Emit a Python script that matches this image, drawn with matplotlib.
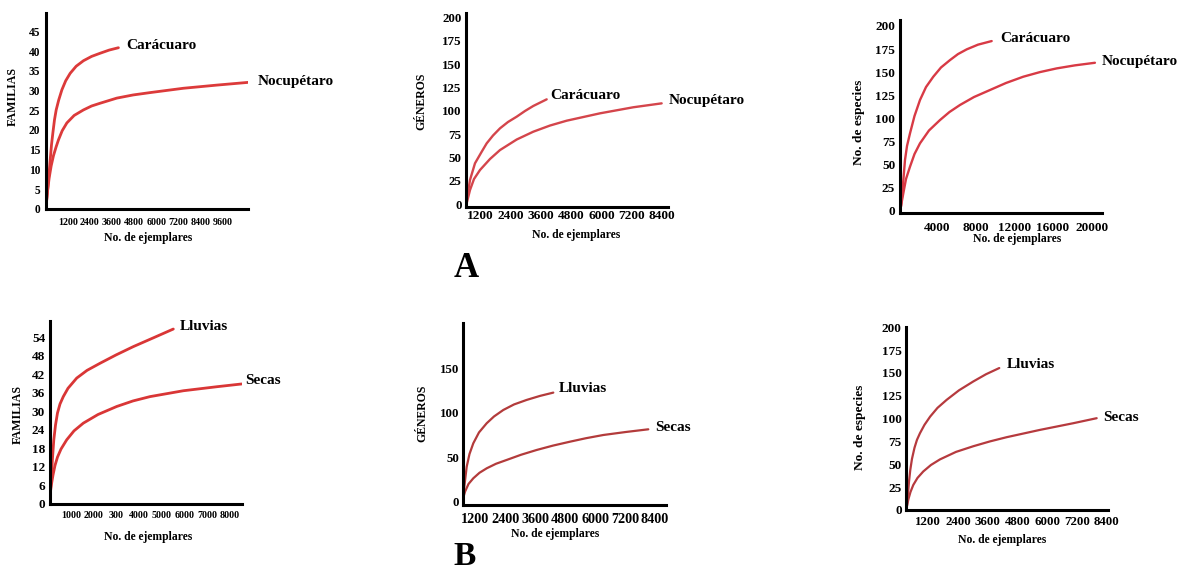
import matplotlib
matplotlib.use("Agg")
import matplotlib.pyplot as plt

plt.rcParams['font.family'] = ['Liberation Serif', 'DejaVu Serif']
plt.rcParams['font.weight'] = 'bold'

W, H = 1180, 573

# ---------------- data ----------------
# Panel A1: FAMILIAS
a1_car_x = [16, 81, 152, 244, 314, 390, 477, 569, 705, 878, 1084, 1328, 1653, 2049, 2493, 2954, 3442, 3946]
a1_car_y = [0.3, 3.6, 7.4, 12.4, 16.2, 19.3, 22.6, 25.1, 27.6, 30.2, 32.5, 34.4, 36.2, 37.6, 38.7, 39.5, 40.3, 40.9]
a1_noc_x = [16, 54, 108, 190, 298, 423, 558, 694, 894, 1149, 1545, 2049, 2493, 2954, 3859, 4743, 5664, 7469, 9279, 10992]
a1_noc_y = [0.3, 2.3, 4.8, 7.9, 10.9, 13.5, 15.6, 17.5, 19.8, 21.8, 23.7, 25.1, 26.1, 26.8, 28.1, 28.9, 29.5, 30.6, 31.4, 32.1]
a1_xticks = [1200, 2400, 3600, 4800, 6000, 7200, 8400, 9600]
a1_yticks = [0, 5, 10, 15, 20, 25, 30, 35, 40, 45]

# Panel A2: GÉNEROS
a2_car_x = [653, 792, 990, 1255, 1453, 1703, 1980, 2297, 2641, 2970, 3299, 3829]
a2_car_y = [2.1, 25.8, 43.7, 56.1, 65.1, 73.5, 81.2, 88, 93.7, 99.8, 105.2, 112.3]
a2_noc_x = [673, 792, 950, 1188, 1584, 1980, 2641, 3299, 3960, 4621, 5940, 7259, 8383]
a2_noc_y = [2.1, 15, 26.8, 36.5, 48.3, 57.9, 69.2, 77.6, 84.2, 89.4, 97.3, 103.8, 108.0]
a2_xticks = [1200, 2400, 3600, 4800, 6000, 7200, 8400]
a2_yticks = [0, 25, 50, 75, 100, 125, 150, 175, 200]

# Panel A3: No. de especies
a3_car_x = [310, 382, 722, 929, 1238, 1703, 2270, 2890, 3643, 4438, 5366, 6192, 7090, 8256, 9670]
a3_car_y = [4.3, 11.6, 54.9, 70, 83.7, 102.5, 119.8, 133.8, 145, 155, 163, 169.5, 174.6, 179.7, 183.6]
a3_noc_x = [310, 547, 826, 1238, 1703, 2270, 3199, 4334, 5315, 6398, 7843, 9494, 11146, 12931, 14654, 16377, 18266, 20330]
a3_noc_y = [5.1, 18.8, 34.3, 47.6, 61.3, 72.9, 86.8, 98.1, 106.8, 114.4, 123, 130.6, 138.2, 145, 150, 154, 157.3, 160.1]
a3_xticks = [4000, 8000, 12000, 16000, 20000]
a3_yticks = [0, 25, 50, 75, 100, 125, 150, 175, 200]

# Panel B1: FAMILIAS
b1_llu_x = [101, 154, 198, 255, 330, 417, 527, 672, 879, 1261, 1714, 2285, 2988, 3748, 4614, 5506]
b1_llu_y = [3.6, 9.4, 14.9, 20.8, 25.6, 29.5, 32.4, 34.8, 37.5, 40.8, 43.3, 45.6, 48.3, 51, 53.8, 56.7]
b1_sec_x = [101, 154, 220, 308, 417, 571, 822, 1142, 1551, 2197, 3019, 3735, 4482, 5945, 7413, 8511]
b1_sec_y = [3.6, 6.5, 9.4, 12.5, 15.2, 17.8, 20.8, 23.7, 26.2, 29, 31.6, 33.4, 34.8, 36.7, 38, 38.9]
b1_xticks = [1000, 2000, 3000, 4000, 5000, 6000, 7000, 8000]
b1_xlabels = ['1000', '2000', '300', '4000', '5000', '6000', '7000', '8000']
b1_yticks = [0, 6, 12, 18, 24, 30, 36, 42, 48, 54]

# Panel B2: GÉNEROS
b2_llu_x = [740, 772, 868, 980, 1132, 1360, 1668, 1960, 2332, 2760, 3268, 3800, 4332]
b2_llu_y = [7.5, 16.9, 39.3, 53.6, 65.6, 77.8, 88.1, 95.7, 103, 109.2, 114.3, 118.8, 122.5]
b2_sec_x = [740, 800, 940, 1132, 1380, 1668, 2040, 2468, 3040, 3668, 4320, 5000, 5640, 6332, 7240, 8132]
b2_sec_y = [5.3, 11.2, 19.9, 26.3, 32.5, 37.5, 42.6, 46.9, 52.7, 58.1, 63, 67.4, 71.3, 74.9, 78.3, 81.3]
b2_xticks = [1200, 2400, 3600, 4800, 6000, 7200, 8400]
b2_yticks = [0, 50, 100, 150]

# Panel B3: No. de especies
b3_llu_x = [339, 380, 420, 473, 541, 642, 743, 865, 1046, 1277, 1572, 1943, 2440, 3018, 3531, 4068]
b3_llu_y = [4.4, 17.5, 30.7, 43.9, 55.9, 68, 76.8, 84.1, 93.2, 102.3, 111.8, 120.6, 131, 140.7, 148.6, 155.4]
b3_sec_x = [339, 400, 481, 594, 764, 998, 1309, 1673, 2319, 3018, 3693, 4367, 5713, 7058, 8003]
b3_sec_y = [4.4, 12.1, 19.7, 27.4, 35.1, 42.2, 49.3, 55.4, 63.6, 69.8, 75.1, 79.7, 87.7, 95, 100.5]
b3_xticks = [1200, 2400, 3600, 4800, 6000, 7200, 8400]
b3_yticks = [0, 25, 50, 75, 100, 125, 150, 175, 200]

fig = plt.figure(figsize=(W / 100, H / 100), dpi=100)
fig.patch.set_facecolor('white')


def px(x, y):
    return x / W, 1 - y / H


def make_ax(l, t, r, b, xlim, ylim, xticks, yticks, xfs, yfs, xpad, ypad, xlabels=None):
    ax = fig.add_axes([l / W, 1 - b / H, (r - l) / W, (b - t) / H])
    ax.set_xlim(*xlim)
    ax.set_ylim(*ylim)
    for s in ['top', 'right']:
        ax.spines[s].set_visible(False)
    for s in ['left', 'bottom']:
        ax.spines[s].set_linewidth(2.2)
        ax.spines[s].set_color('black')
    ax.set_xticks(xticks)
    ax.set_xticklabels(xlabels if xlabels else [str(v) for v in xticks],
                       fontsize=xfs, fontweight='bold')
    ax.set_yticks(yticks)
    ax.set_yticklabels([str(v) for v in yticks], fontsize=yfs, fontweight='bold')
    ax.tick_params(axis='x', length=0, pad=xpad)
    ax.tick_params(axis='y', length=0, pad=ypad)
    ax.patch.set_alpha(0)
    return ax


def ftext(x, y, s, **kw):
    fx, fy = px(x, y)
    fig.text(fx, fy, s, fontweight='bold', **kw)


def curve(ax, x, y, color, lw):
    ax.plot(x, y, color=color, lw=lw, solid_capstyle='round', solid_joinstyle='round')


# ---- A1 ----
ax = make_ax(45.7, 12.7, 248, 208.7, (0, 10976), (0, 49.8), a1_xticks, a1_yticks,
             7.2, 8.3, 6.5, 4)
curve(ax, a1_car_x, a1_car_y, '#dc3a3a', 2.0)
curve(ax, a1_noc_x, a1_noc_y, '#dc3a3a', 2.0)
ftext(126, 49.3, 'Carácuaro', fontsize=11, ha='left', va='baseline')
ftext(258, 85, 'Nocupétaro', fontsize=11, ha='left', va='baseline')
ftext(148, 238.3, 'No. de ejemplares', fontsize=8.4, ha='center', va='center')
ftext(13, 97, 'FAMILIAS', fontsize=8.6, ha='center', va='center', rotation=90)

# ---- A2 ----
ax = make_ax(466, 13.3, 668, 207.3, (634, 8634), (-3.5, 204.6), a2_xticks, a2_yticks,
             9.6, 9.4, 1.8, 3)
curve(ax, a2_car_x, a2_car_y, '#d4454b', 1.7)
curve(ax, a2_noc_x, a2_noc_y, '#d4454b', 1.7)
ftext(550, 99, 'Carácuaro', fontsize=11, ha='left', va='baseline')
ftext(669, 104, 'Nocupétaro', fontsize=11, ha='left', va='baseline')
ftext(575.8, 235, 'No. de ejemplares', fontsize=8.4, ha='center', va='center')
ftext(421, 101, 'GÉNEROS', fontsize=8.5, ha='center', va='center', rotation=90)

# ---- A3 ----
ax = make_ax(900, 20, 1101.7, 212.7, (206, 21030), (-2.2, 206.4), a3_xticks, a3_yticks,
             9.5, 9.5, 6.5, 3.5)
curve(ax, a3_car_x, a3_car_y, '#d83a45', 1.7)
curve(ax, a3_noc_x, a3_noc_y, '#d83a45', 1.7)
ftext(1000, 41.7, 'Carácuaro', fontsize=11, ha='left', va='baseline')
ftext(1101.7, 65, 'Nocupétaro', fontsize=11, ha='left', va='baseline')
ftext(1016.7, 239.3, 'No. de ejemplares', fontsize=8.4, ha='center', va='center')
ftext(859, 122.5, 'No. de especies', fontsize=9.6, ha='center', va='center', rotation=90)

# ---- A / B letters ----
ftext(466.5, 277, 'A', fontsize=25, ha='center', va='baseline')
ftext(465, 565, 'B', fontsize=24, ha='center', va='baseline')

# ---- B1 ----
ax = make_ax(50, 320.7, 241.7, 504, (88, 8510), (0, 59.4), b1_xticks, b1_yticks,
             7.2, 9.5, 5, 3.5, xlabels=b1_xlabels)
curve(ax, b1_llu_x, b1_llu_y, '#d93636', 2.0)
curve(ax, b1_sec_x, b1_sec_y, '#d93636', 2.0)
ftext(180, 330, 'Lluvias', fontsize=11, ha='left', va='baseline')
ftext(245, 384, 'Secas', fontsize=11, ha='left', va='baseline')
ftext(148.3, 537.3, 'No. de ejemplares', fontsize=8.4, ha='center', va='center')
ftext(18, 415, 'FAMILIAS', fontsize=8.6, ha='center', va='center', rotation=90)

# ---- B2 ----
ax = make_ax(462.7, 322.7, 666, 505, (708, 8840), (-3.7, 201), b2_xticks, b2_yticks,
             10.2, 9.3, 5.5, 2.5)
curve(ax, b2_llu_x, b2_llu_y, '#b33b3b', 1.6)
curve(ax, b2_sec_x, b2_sec_y, '#b33b3b', 1.6)
ftext(559, 392.3, 'Lluvias', fontsize=11, ha='left', va='baseline')
ftext(655, 430.7, 'Secas', fontsize=11, ha='left', va='baseline')
ftext(555.5, 534.3, 'No. de ejemplares', fontsize=8.4, ha='center', va='center')
ftext(422.5, 413.5, 'GÉNEROS', fontsize=8.5, ha='center', va='center', rotation=90)

# ---- B3 ----
ax = make_ax(906, 327.3, 1108.3, 510, (300, 8473), (0, 200), b3_xticks, b3_yticks,
             9.3, 9.5, 4.5, 3)
curve(ax, b3_llu_x, b3_llu_y, '#b63a3e', 1.6)
curve(ax, b3_sec_x, b3_sec_y, '#b63a3e', 1.6)
ftext(1006.7, 367.7, 'Lluvias', fontsize=11, ha='left', va='baseline')
ftext(1102.7, 420.7, 'Secas', fontsize=11, ha='left', va='baseline')
ftext(1002.5, 540, 'No. de ejemplares', fontsize=8.4, ha='center', va='center')
ftext(860, 427.5, 'No. de especies', fontsize=9.6, ha='center', va='center', rotation=90)

fig.savefig('out.png', dpi=100, facecolor='white')
